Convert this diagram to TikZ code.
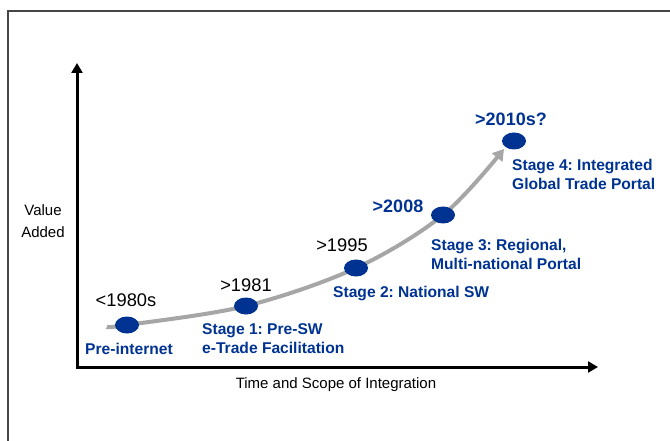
\documentclass[tikz,border=0pt]{standalone}
\usepackage{fontspec}
\setmainfont{Liberation Sans}
\usetikzlibrary{arrows.meta,shapes.geometric}
\definecolor{navy}{RGB}{0,51,145}
\definecolor{curvegray}{RGB}{166,166,166}
\definecolor{framegray}{RGB}{70,70,70}
\frenchspacing
\begin{document}
\begin{tikzpicture}[x=1pt,y=-1pt,
  milestone/.style={ellipse,fill=navy,minimum width=24pt,minimum height=17pt,inner sep=0pt},
  year/.style={inner sep=0pt,font=\fontsize{18.3}{22}\selectfont},
  yearbold/.style={inner sep=0pt,text=navy,font=\bfseries\fontsize{18}{22}\selectfont},
  stagelabel/.style={inner sep=0pt,text=navy,align=left,anchor=west,font=\bfseries\fontsize{15.6}{19.5}\selectfont},
  axislabel/.style={inner sep=0pt,align=center,font=\fontsize{15}{22}\selectfont},
  axis/.style={line width=3pt,{Triangle[length=10pt,width=11pt]}-{Triangle[length=10pt,width=11pt]}},
  growth/.style={line width=4pt,curvegray,-{Triangle[length=11pt,width=13pt]}}]
  \useasboundingbox (0,0) rectangle (670,441);

  % frame
  \draw[framegray,line width=1.3pt] (8,441) -- (8,11) -- (670,11);

  % axes
  \coordinate (ytop) at (77,63);
  \coordinate (origin) at (77,367);
  \coordinate (xend) at (598,367);
  \draw[axis] (ytop) -- (origin) -- (xend);
  \node[axislabel] (vlabel) at (43,221) {Value\\[-0.1pt]Added};
  \node[axislabel] (hlabel) at (336,385) {Time and Scope of Integration};

  % growth curve through the milestones
  \coordinate (start) at (107,327);
  \coordinate (m0) at (127,325);
  \coordinate (m1) at (246,306);
  \coordinate (m2) at (356,268);
  \coordinate (m3) at (443,215);
  \coordinate (tip) at (504,149);
  \coordinate (m4) at (514,141);
  \draw[growth] plot[smooth,tension=0.55] coordinates {(start) (m0) (m1) (m2) (m3) (tip)};

  % milestones
  \node[milestone] (e0) at (m0) {};
  \node[milestone] (e1) at (m1) {};
  \node[milestone] (e2) at (m2) {};
  \node[milestone] (e3) at (m3) {};
  \node[milestone] (e4) at (m4) {};

  % years
  \node[year] (y0) at (126,300) {<1980s};
  \node[year] (y1) at (246,285) {>1981};
  \node[year] (y2) at (342,245) {>1995};
  \node[yearbold] (y3) at (398,206) {>2008};
  \node[yearbold] (y4) at (511,119) {>2010s?};

  % stages
  \node[stagelabel,anchor=center] (s0) at (129,349) {Pre-internet};
  \node[stagelabel] (s1) at (202,338.5) {Stage 1: Pre-SW\\e-Trade Facilitation};
  \node[stagelabel] (s2) at (333,294) {Stage 2: National SW};
  \node[stagelabel] (s3) at (431,254.5) {Stage 3: Regional,\\Multi-national Portal};
  \node[stagelabel] (s4) at (512,174.5) {Stage 4: Integrated\\Global Trade Portal};
\end{tikzpicture}
\end{document}
